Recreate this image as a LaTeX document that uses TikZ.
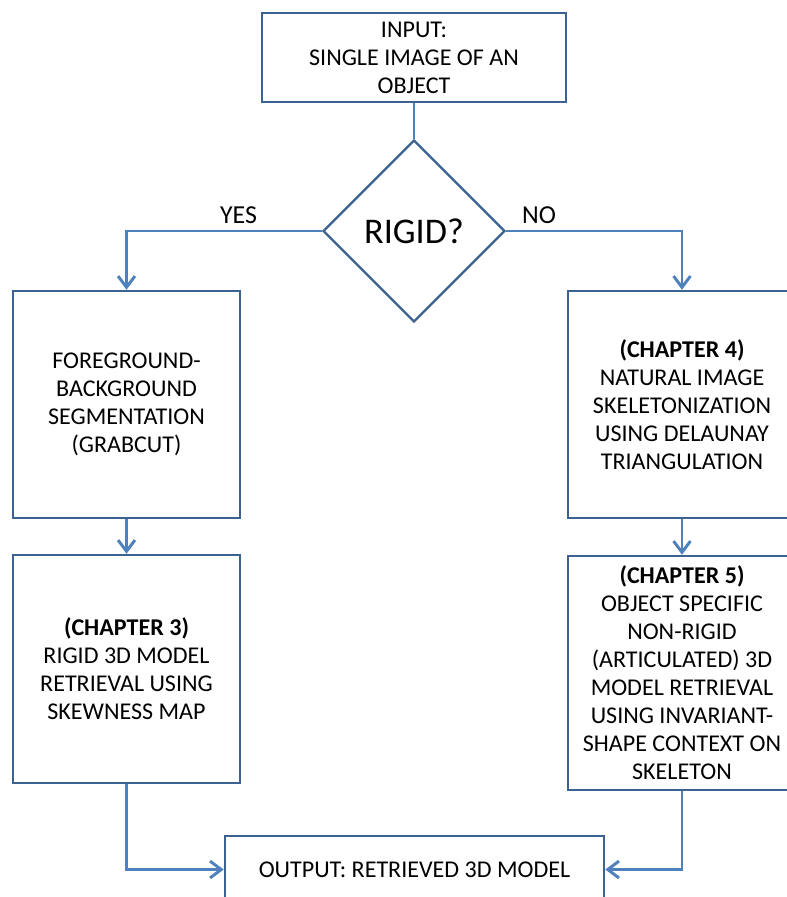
\documentclass[tikz,border=0pt]{standalone}
\usepackage{fontspec}
\setmainfont{Carlito}
\usetikzlibrary{arrows.meta,shapes.geometric}

\definecolor{boxblue}{RGB}{60,98,145}
\definecolor{lineblue}{RGB}{79,129,189}

\begin{document}
\begin{tikzpicture}[x=0.025cm,y=-0.025cm,
    box/.style={draw=boxblue,line width=1.7pt,fill=white,align=center,inner sep=2pt,
        font=\fontsize{17.1pt}{19.9pt}\selectfont},
    flow/.style={draw=lineblue,line width=2.1pt,-{Straight Barb[length=8pt,width=12pt,line width=2.1pt]}},
    answer/.style={font=\fontsize{18.4pt}{20pt}\selectfont}]
    \useasboundingbox (0,0) rectangle (787,897);
    \clip (0,0) rectangle (787,897);

    \node[box,minimum width=7.6cm,minimum height=2.225cm] (input) at (414,57.5)
        {INPUT:\\SINGLE IMAGE OF AN\\OBJECT};
    \node[box,shape=diamond,aspect=1,inner sep=0pt,minimum width=4.55cm,minimum height=4.55cm,
        font=\fontsize{25.7pt}{28pt}\selectfont] (rigid) at (414,231) {RIGID?};

    \node[box,minimum width=5.675cm,minimum height=5.675cm] (grabcut) at (126.5,404.5)
        {FOREGROUND-\\BACKGROUND\\SEGMENTATION\\(GRABCUT)};
    \node[box,minimum width=5.675cm,minimum height=5.7cm] (rigidret) at (126.5,669)
        {\textbf{(CHAPTER 3)}\\RIGID 3D MODEL\\RETRIEVAL USING\\SKEWNESS MAP};

    \node[box,minimum width=5.7cm,minimum height=5.675cm] (skel) at (682,404.5)
        {\textbf{(CHAPTER 4)}\\NATURAL IMAGE\\SKELETONIZATION\\USING DELAUNAY\\TRIANGULATION};
    \node[box,minimum width=5.7cm,minimum height=5.85cm] (nonrigid) at (682,673)
        {\textbf{(CHAPTER 5)}\\OBJECT SPECIFIC\\NON-RIGID\\(ARTICULATED) 3D\\MODEL RETRIEVAL\\USING INVARIANT-\\SHAPE CONTEXT ON\\SKELETON};

    \node[box,minimum width=9.475cm,minimum height=1.675cm] (output) at (414.5,869.5)
        {OUTPUT: RETRIEVED 3D MODEL};

    \node[answer] (yes) at (238.5,215) {YES};
    \node[answer] (no) at (539,215) {NO};

    % connectors
    \draw[draw=lineblue,line width=2.1pt] (input) -- (rigid);
    \draw[flow] (rigid.west) -| (grabcut.north);
    \draw[flow] (rigid.east) -| (skel.north);
    \draw[flow] (grabcut) -- (rigidret);
    \draw[flow] (skel) -- (nonrigid);
    \draw[flow] (rigidret.south) |- (output.west);
    \draw[flow] (nonrigid.south) |- (output.east);
\end{tikzpicture}
\end{document}
